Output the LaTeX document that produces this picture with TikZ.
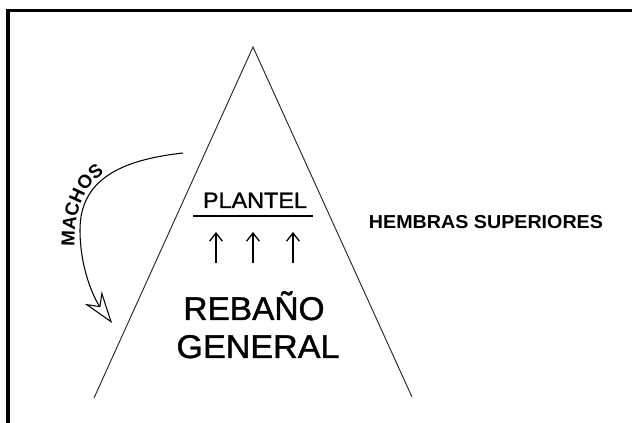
\documentclass[tikz,border=0pt]{standalone}
\usepackage{fontspec}
\setmainfont{Liberation Sans}
\newfontfamily\heavyfont[FakeBold=1.2]{Liberation Sans}
\usetikzlibrary{arrows.meta,decorations.text}

\begin{document}
\begin{tikzpicture}[x=0.03cm,y=0.03cm,
        lbl/.style={inner sep=0pt,anchor=base,xscale=1.05},
        uparr/.style={line width=1.1pt,-{Straight Barb[length=7pt,width=11pt]}}]
        \useasboundingbox (0,0) rectangle (632,423);
        % Define the frame and the triangle
        \draw[line width=2.6pt] (632,412.5) -- (8,412.5) -- (8,0);
        \coordinate (apex) at (253,376);
        \coordinate (left) at (94,25);
        \coordinate (right) at (412,26);
        \draw[line width=0.8pt,black!85] (left) -- (apex) -- (right);
        % Define the nodes for the labels
        \node[lbl,font=\heavyfont\fontsize{19}{22}\selectfont]          (plantel) at (255,215) {PLANTEL};
        \node[lbl,font=\heavyfont\fontsize{28}{30}\selectfont,xscale=0.97] (rebano)  at (254,103) {REBAÑO};
        \node[lbl,font=\heavyfont\fontsize{28}{30}\selectfont,xscale=0.99] (general) at (258,65)  {GENERAL};
        \node[lbl,font=\fontsize{16}{18}\selectfont\bfseries] (hembras) at (486,194) {HEMBRAS SUPERIORES};
        % Connect the nodes for plantel
        \coordinate (ul1) at (193,207);
        \coordinate (ul2) at (313,207);
        \draw[line width=1.3pt] (ul1) -- (ul2);
        \foreach \x [count=\i] in {216,253,293} {
            \coordinate (lo\i) at (\x,160);
            \coordinate (hi\i) at (\x,191);
            \draw[uparr] (lo\i) -- (hi\i);
        }
        % Curved arrow for machos
        \coordinate (mstart) at (183,270);
        \coordinate (mmid) at (80,193);
        \coordinate (mend) at (112,100);
        \draw[line width=0.9pt,-{Stealth[open,length=27pt,width=18pt,inset=9pt]}]
            (mstart) .. controls (120,263) and (80,243) .. (mmid)
            .. controls (80,153) and (95,123) .. (mend);
        \path[decorate,decoration={text along path,text align=center,
            text={|\fontsize{16}{18}\selectfont\bfseries|MACHOS}}]
            (75,166) .. controls (72,216) and (86,243) .. (114,255);
    \end{tikzpicture}
\end{document}
